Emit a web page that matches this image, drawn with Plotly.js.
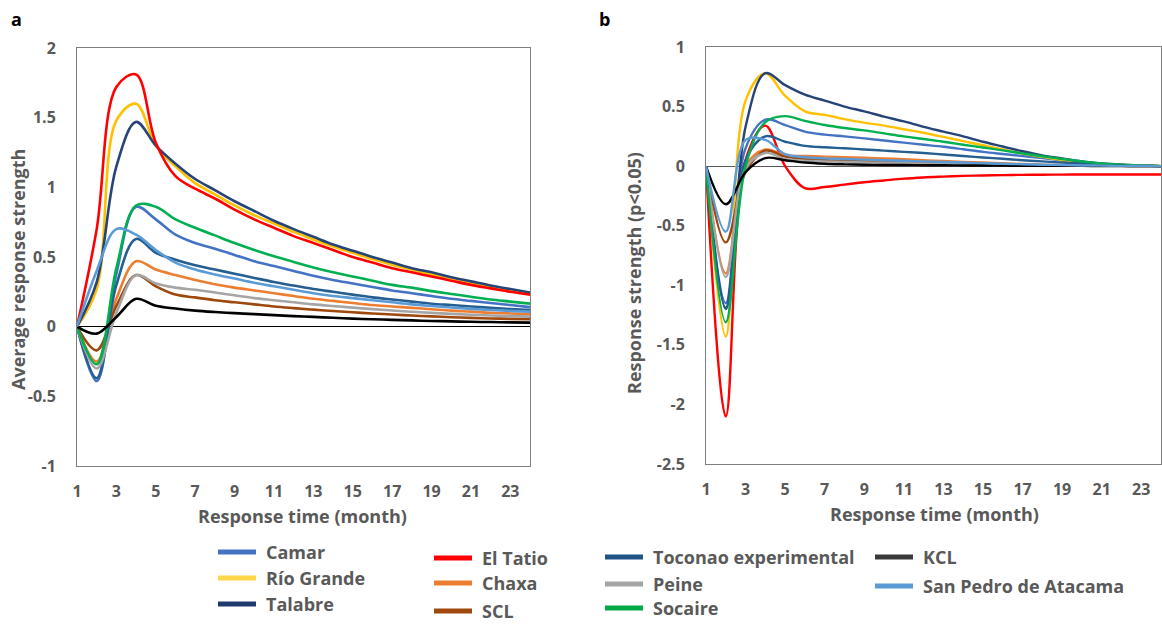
<!DOCTYPE html>
<html><head><meta charset="utf-8">
<script src="https://cdn.plot.ly/plotly-3.0.1.min.js"></script>
<style>html,body{margin:0;padding:0;background:#fff;}#chart{width:1162px;height:624px;}</style>
</head><body><div id="chart"></div>
<script>
const months = [1,2,3,4,5,6,7,8,9,10,11,12,13,14,15,16,17,18,19,20,21,22,23,24];
const xTickVals = [1,3,5,7,9,11,13,15,17,19,21,23];
const yTickValsA = [-1,-0.5,0,0.5,1,1.5,2];
const yTickTextA = ["-1","-0.5","0","0.5","1","1.5","2"];
const yTickValsB = [-2.5,-2,-1.5,-1,-0.5,0,0.5,1];
const yTickTextB = ["-2.5","-2","-1.5","-1","-0.5","0","0.5","1"];
const siteNames = ["Camar","Río Grande","Talabre","El Tatio","Chaxa","SCL","Toconao experimental","Peine","Socaire","KCL","San Pedro de Atacama"];

// Panel a: average response strength
const camarA    = [0,-0.39,0.38,0.86,0.77,0.66,0.60,0.56,0.515,0.47,0.435,0.40,0.365,0.335,0.31,0.285,0.26,0.24,0.22,0.20,0.185,0.17,0.155,0.14];
const rioA      = [0,0.27,1.48,1.60,1.30,1.15,1.03,0.95,0.87,0.80,0.74,0.68,0.625,0.575,0.53,0.485,0.445,0.41,0.375,0.345,0.315,0.285,0.26,0.235];
const talabreA  = [0,0.32,1.15,1.47,1.30,1.17,1.06,0.98,0.90,0.83,0.76,0.70,0.645,0.59,0.545,0.50,0.46,0.42,0.39,0.355,0.325,0.295,0.27,0.245];
const tatioA    = [0,0.70,1.72,1.81,1.32,1.08,0.99,0.92,0.84,0.77,0.71,0.65,0.60,0.55,0.50,0.46,0.42,0.39,0.36,0.33,0.30,0.275,0.25,0.23];
const chaxaA    = [0,-0.25,0.20,0.47,0.41,0.37,0.335,0.305,0.28,0.26,0.24,0.22,0.20,0.185,0.17,0.155,0.145,0.135,0.125,0.115,0.108,0.10,0.095,0.09];
const sclA      = [0,-0.17,0.15,0.37,0.29,0.23,0.21,0.19,0.175,0.16,0.145,0.133,0.122,0.112,0.103,0.095,0.087,0.08,0.074,0.068,0.063,0.059,0.056,0.053];
const toconaoA  = [0,-0.37,0.30,0.63,0.53,0.48,0.44,0.41,0.38,0.35,0.32,0.295,0.27,0.25,0.23,0.21,0.195,0.18,0.165,0.155,0.145,0.135,0.127,0.12];
const peineA    = [0,-0.30,0.10,0.37,0.31,0.28,0.265,0.245,0.225,0.205,0.19,0.175,0.16,0.148,0.137,0.126,0.116,0.107,0.099,0.092,0.085,0.08,0.076,0.072];
const socaireA  = [0,-0.27,0.42,0.87,0.86,0.77,0.71,0.655,0.60,0.55,0.505,0.465,0.425,0.39,0.36,0.33,0.30,0.28,0.255,0.235,0.215,0.195,0.18,0.165];
const kclA      = [0,-0.05,0.07,0.20,0.15,0.13,0.115,0.105,0.097,0.09,0.083,0.076,0.07,0.064,0.058,0.053,0.049,0.045,0.041,0.038,0.035,0.033,0.031,0.029];
const sanPedroA = [0,0.40,0.70,0.66,0.55,0.46,0.41,0.375,0.345,0.315,0.29,0.265,0.24,0.22,0.205,0.19,0.175,0.16,0.148,0.138,0.128,0.12,0.113,0.108];

// Panel b: response strength (p<0.05)
const camarB    = [0,-1.15,0.15,0.39,0.345,0.29,0.265,0.25,0.233,0.215,0.197,0.18,0.163,0.142,0.12,0.102,0.085,0.067,0.05,0.035,0.02,0.01,0.005,0];
const rioB      = [0,-1.43,0.55,0.78,0.59,0.46,0.43,0.395,0.365,0.34,0.31,0.28,0.245,0.21,0.175,0.14,0.105,0.078,0.052,0.032,0.018,0.01,0.005,0.002];
const talabreB  = [0,-1.19,0.33,0.78,0.68,0.60,0.55,0.50,0.46,0.415,0.375,0.33,0.29,0.25,0.205,0.165,0.125,0.09,0.065,0.04,0.022,0.012,0.006,0];
const tatioB    = [0,-2.10,0.05,0.34,0.0,-0.185,-0.175,-0.155,-0.135,-0.12,-0.105,-0.095,-0.088,-0.082,-0.078,-0.075,-0.073,-0.072,-0.071,-0.07,-0.07,-0.07,-0.07,-0.07];
const chaxaB    = [0,-0.90,0.0,0.14,0.09,0.085,0.08,0.075,0.07,0.065,0.058,0.05,0.043,0.036,0.03,0.024,0.018,0.013,0.009,0.006,0.004,0.002,0.001,0];
const sclB      = [0,-0.64,-0.05,0.13,0.08,0.06,0.05,0.045,0.04,0.036,0.032,0.028,0.024,0.02,0.017,0.014,0.011,0.008,0.006,0.004,0.003,0.002,0.001,0];
const toconaoB  = [0,-1.20,0.05,0.25,0.205,0.17,0.158,0.15,0.14,0.13,0.12,0.11,0.098,0.085,0.073,0.062,0.05,0.04,0.03,0.022,0.014,0.008,0.004,0];
const peineB    = [0,-0.93,-0.02,0.11,0.06,0.045,0.04,0.035,0.031,0.028,0.025,0.022,0.019,0.016,0.013,0.011,0.009,0.007,0.005,0.004,0.003,0.002,0.001,0];
const socaireB  = [0,-1.31,0.0,0.37,0.42,0.38,0.345,0.32,0.30,0.275,0.25,0.228,0.205,0.18,0.157,0.132,0.107,0.083,0.06,0.04,0.022,0.012,0.005,0];
const kclB      = [0,-0.32,-0.05,0.068,0.05,0.03,0.02,0.015,0.012,0.01,0.009,0.008,0.007,0.006,0.005,0.004,0.003,0.003,0.002,0.002,0.001,0.001,0,0];
const sanPedroB = [0,-0.55,0.22,0.22,0.10,0.075,0.065,0.06,0.055,0.05,0.045,0.04,0.035,0.03,0.025,0.02,0.016,0.012,0.009,0.006,0.004,0.002,0.001,0];

const seriesA = [camarA,rioA,talabreA,tatioA,chaxaA,sclA,toconaoA,peineA,socaireA,kclA,sanPedroA];
const seriesB = [camarB,rioB,talabreB,tatioB,chaxaB,sclB,toconaoB,peineB,socaireB,kclB,sanPedroB];

// styles
const colors = ["#4472C4","#FFC000","#264478","#FF0000","#ED7D31","#9E480E","#255E91","#A5A5A5","#00B050","#000000","#5B9BD5"];
const legendColors = ["#4472C4","#FFD54A","#1F3B6E","#FF0000","#ED7D31","#9E480E","#1F5487","#A5A5A5","#00A846","#3A3A3A","#5B9BD5"];
const FONT = "'Open Sans', 'Noto Sans', sans-serif";
const GRAY = "#595959";

const traces = [];
siteNames.forEach((n,i)=>{
  traces.push({x:months,y:seriesA[i],name:n,type:"scatter",mode:"lines",xaxis:"x",yaxis:"y",
    line:{color:colors[i],width:2.6,shape:"spline",smoothing:1},showlegend:false});
});
siteNames.forEach((n,i)=>{
  traces.push({x:months,y:seriesB[i],name:n,type:"scatter",mode:"lines",xaxis:"x2",yaxis:"y2",
    line:{color:colors[i],width:2.4,shape:"spline",smoothing:1},showlegend:false});
});

const W=1162,H=624;
const px = v=>v/W, py = v=>1-v/H;

const tickFont = {family:FONT,size:16,color:GRAY,weight:"bold"};
const axX = {range:[1,24],tickvals:xTickVals,showgrid:false,zeroline:false,showline:true,mirror:true,
  linecolor:"#7f7f7f",linewidth:1,ticks:"",ticklabelstandoff:11,tickfont:tickFont,fixedrange:true};
const axY = {showgrid:false,zeroline:true,zerolinecolor:"#000",zerolinewidth:1,showline:true,mirror:true,
  linecolor:"#7f7f7f",linewidth:1,ticks:"",ticklabelstandoff:17,tickfont:tickFont,fixedrange:true};

// legend layout (positions in px)
const legPos = [[218,552],[218,578],[218,604],[434,558],[434,583],[434,611],[605,557],[605,584],[605,608],[875,557],[875,586]];
const shapes = [];
const annotations = [];
legPos.forEach((p,i)=>{
  shapes.push({type:"line",xref:"paper",yref:"paper",x0:px(p[0]),x1:px(p[0]+38),y0:py(p[1]),y1:py(p[1]),
    line:{color:legendColors[i],width:5}});
  annotations.push({xref:"paper",yref:"paper",x:px(p[0]+46),y:py(p[1]),xanchor:"left",yanchor:"middle",
    text:siteNames[i],showarrow:false,font:{family:FONT,size:18,color:GRAY,weight:"bold"}});
});
const titleFont = {family:FONT,size:18,color:GRAY,weight:"bold"};
annotations.push(
  {xref:"paper",yref:"paper",x:px(9),y:py(19),xanchor:"left",yanchor:"middle",text:"a",showarrow:false,font:{family:FONT,size:18,color:"#000",weight:"bold"}},
  {xref:"paper",yref:"paper",x:px(597),y:py(19),xanchor:"left",yanchor:"middle",text:"b",showarrow:false,font:{family:FONT,size:18,color:"#000",weight:"bold"}},
  {xref:"paper",yref:"paper",x:px(18),y:py(270),textangle:-90,xanchor:"center",yanchor:"middle",text:"Average response strength",showarrow:false,font:titleFont},
  {xref:"paper",yref:"paper",x:px(634),y:py(273),textangle:-90,xanchor:"center",yanchor:"middle",text:"Response strength (p<0.05)",showarrow:false,font:titleFont},
  {xref:"paper",yref:"paper",x:px(303),y:py(516),xanchor:"center",yanchor:"middle",text:"Response time (month)",showarrow:false,font:titleFont},
  {xref:"paper",yref:"paper",x:px(934),y:py(514),xanchor:"center",yanchor:"middle",text:"Response time (month)",showarrow:false,font:titleFont}
);

const layout = {
  width:W,height:H,margin:{l:0,r:0,t:0,b:0},paper_bgcolor:"#fff",plot_bgcolor:"#fff",showlegend:false,
  xaxis:Object.assign({},axX,{domain:[px(77),px(530)],anchor:"y"}),
  yaxis:Object.assign({},axY,{domain:[py(466),py(48)],range:[-1,2],tickvals:yTickValsA,ticktext:yTickTextA,anchor:"x"}),
  xaxis2:Object.assign({},axX,{domain:[px(706),px(1161)],anchor:"y2"}),
  yaxis2:Object.assign({},axY,{domain:[py(464),py(47)],range:[-2.5,1],tickvals:yTickValsB,ticktext:yTickTextB,anchor:"x2",zerolinecolor:"#595959"}),
  shapes:shapes,annotations:annotations
};
Plotly.newPlot("chart",traces,layout,{staticPlot:true,displayModeBar:false});
</script></body></html>
